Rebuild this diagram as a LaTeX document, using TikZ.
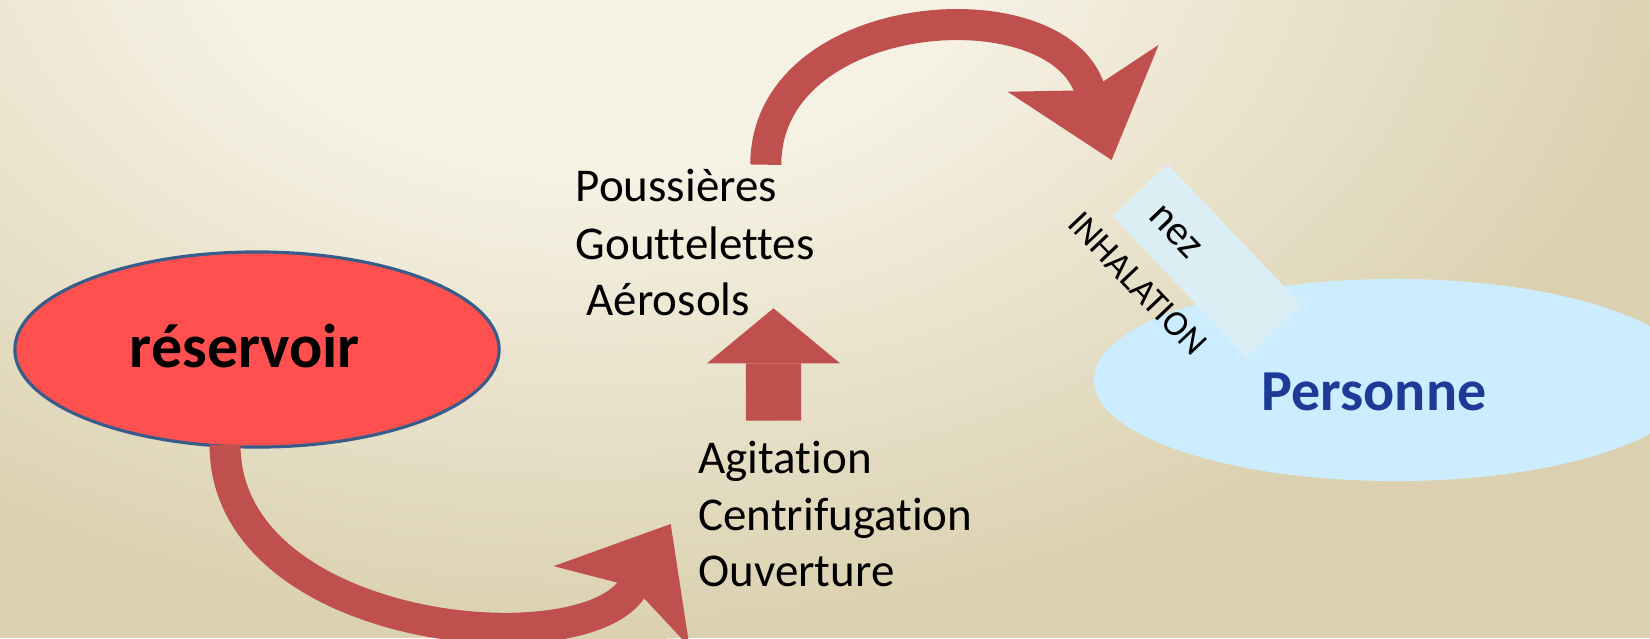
\documentclass[tikz,border=0pt]{standalone}
\usepackage{fontspec}
\setmainfont{Carlito}[Ligatures={NoCommon, NoContextual}]
\usetikzlibrary{positioning, arrows.meta, calc, shapes.geometric}
\definecolor{bglight}{RGB}{245, 241, 227}
\definecolor{bgdark}{RGB}{219, 209, 176}
\definecolor{arrowred}{RGB}{192, 80, 77}
\definecolor{resfill}{RGB}{255, 80, 80}
\definecolor{resdraw}{RGB}{56, 93, 138}
\definecolor{perfill}{RGB}{204, 236, 255}
\definecolor{pertext}{RGB}{28, 58, 150}
\definecolor{nezfill}{RGB}{218, 238, 243}
\pgfdeclareradialshading{bgshade}{\pgfpoint{0bp}{0bp}}{%
  color(0bp)=(bglight); color(9bp)=(bglight); color(25bp)=(bgdark); color(50bp)=(bgdark)}

\begin{document}
\begin{tikzpicture}[
  x=0.01cm, y=-0.01cm,
  % --- Styles ---
  txt/.style={inner sep=0pt, anchor=base west,
    font=\fontsize{13.37pt}{16pt}\selectfont},
  biglbl/.style={inner sep=0pt, anchor=base,
    font=\fontsize{#1}{20pt}\selectfont\bfseries},
  ellbox/.style={ellipse, inner sep=0pt, fill=#1},
  nezbox/.style={rectangle, inner sep=0pt, fill=nezfill, rotate=-46.4,
    minimum width=1.94cm, minimum height=0.76cm},
  rotlbl/.style={inner sep=0pt, rotate=-46.4, font=\fontsize{#1}{14pt}\selectfont},
  curvarr/.style={draw=arrowred, line width=0.31cm,
    -{Stealth[length=0.96cm, width=1.58cm, inset=0.23cm, line width=0pt]}},
  blockarr/.style={draw=arrowred, line width=0.55cm,
    -{Triangle[length=0.55cm, width=1.33cm, line width=0pt]}},
]
% === BACKGROUND ===
\useasboundingbox (0,0) rectangle (1650,638);
\fill[bgdark] (0,0) rectangle (1650,638);
\begin{scope}
  \clip (0,0) rectangle (1650,638);
  \shade[shading=bgshade] (600,-80) ellipse (1100 and 720);
\end{scope}

% === NODES ===
% 1. Reservoir
\node[ellbox=resfill, draw=resdraw, line width=0.9pt,
      minimum width=4.84cm, minimum height=1.95cm] (res) at (257,349.5) {};
\node[biglbl=17.6pt] (reslbl) at (245,367) {réservoir};
% 2. Person and nose
\node[ellbox=perfill, minimum width=6.02cm, minimum height=2.02cm] (per) at (1395,380) {};
\node[biglbl=16.5pt, text=pertext] (perlbl) at (1374,410) {Personne};
\node[nezbox] (nez) at (1207,260.5) {};
\node[rotlbl=11.95pt] (nezlbl) at (1175,232) {nez};
\node[rotlbl=10.24pt] (inh) at (1137.5,283.5) {INHALATION};
% 3. Emissions
\node[txt] (pous) at (575,201.7) {Poussières};
\node[txt] (gout) at ($(pous.base west)+(0,57.6)$) {Gouttelettes};
\node[txt] (aero) at ($(gout.base west)+(11,56.4)$) {Aérosols};
% 4. Actions
\node[txt] (agit) at (697.7,473.3) {Agitation};
\node[txt] (cent) at ($(agit.base west)+(0,56.7)$) {Centrifugation};
\node[txt] (ouve) at ($(cent.base west)+(0,56.7)$) {Ouverture};

% === ARROWS ===
\draw[curvarr] ($(res.south)+(-32,-4)$)
  .. controls (225,635) and (585,668) .. ($(cent.base west)+(-27,-6)$);
\draw[blockarr] ($(agit.base west)+(75.8,-52.6)$) -- ($(aero.base west)+(187.5,-7.4)$);
\draw[curvarr] ($(pous.base east)+(-12,-37)$)
  .. controls (766,5) and (1057,-16) .. ($(nez.north west)+(-56,-3)$);
\end{tikzpicture}
\end{document}
